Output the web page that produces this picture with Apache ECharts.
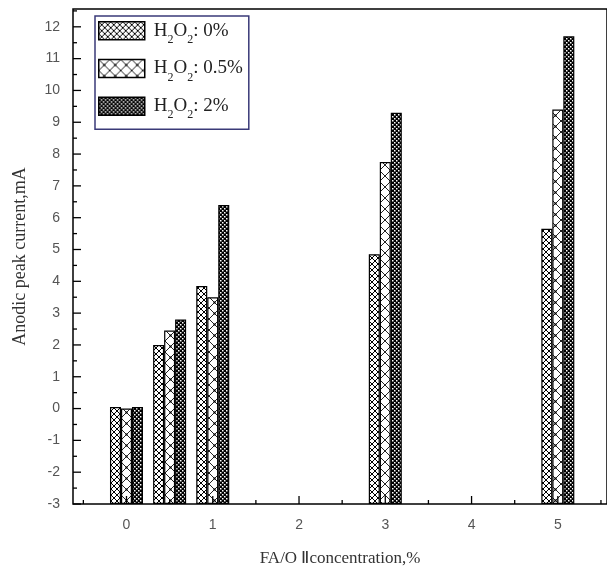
<!DOCTYPE html>
<html>
<head>
<meta charset="utf-8">
<script src="https://cdn.jsdelivr.net/npm/echarts@6/dist/echarts.min.js"></script>
<style>
  html, body { margin: 0; padding: 0; background: #fff; }
  #chart { width: 607px; height: 572px; }
</style>
</head>
<body>
<div id="chart"></div>
<script>
// FA/O II concentration (%) for each bar group
const concentrations = [0, 0.5, 1, 3, 5];
// anodic peak current (mA) per H2O2 level
const h2o2_0 = [0.05, 2.0, 3.85, 4.85, 5.65];
const h2o2_05 = [0.0, 2.45, 3.5, 7.75, 9.4];
const h2o2_2 = [0.05, 2.8, 6.4, 9.3, 11.7];
const seriesNames = ["H2O2: 0%", "H2O2: 0.5%", "H2O2: 2%"];
const legendSuffix = [": 0%", ": 0.5%", ": 2%"];
const xTicks = [0, 1, 2, 3, 4, 5];
const xMinorTicks = [-0.5, 0.5, 1.5, 2.5, 3.5, 4.5, 5.5];
const yTicks = [-3, -2, -1, 0, 1, 2, 3, 4, 5, 6, 7, 8, 9, 10, 11, 12];
const yMinorTicks = [-2.5, -1.5, -0.5, 0.5, 1.5, 2.5, 3.5, 4.5, 5.5, 6.5, 7.5, 8.5, 9.5, 10.5, 11.5, 12.5];

const SERIF = "'Liberation Serif', 'Times New Roman', serif";
const SANS = "'Liberation Sans', Arial, sans-serif";

function tile(size, draw) {
  const c = document.createElement("canvas");
  c.width = c.height = size;
  const g = c.getContext("2d");
  g.fillStyle = "#fff";
  g.fillRect(0, 0, size, size);
  draw(g, size);
  return c;
}

function diagonals(g, s, w, color) {
  g.strokeStyle = color;
  g.lineWidth = w;
  g.beginPath();
  g.moveTo(0, 0); g.lineTo(s, s);
  g.moveTo(s, 0); g.lineTo(0, s);
  g.stroke();
}

// dense small diamonds
const patSmall = tile(6, (g, s) => {
  diagonals(g, s, 1, "#000");
  g.fillStyle = "#000";
  g.fillRect(2, 2, 2, 2);
});
// large open X lattice
const patLarge = tile(11, (g, s) => {
  diagonals(g, s, 1, "#222");
  g.fillStyle = "#000";
  g.fillRect(4.5, 4.5, 2, 2);
});
// dark checker
const patDark = tile(4, (g, s) => {
  g.fillStyle = "#000";
  g.fillRect(0, 0, s, s);
  g.fillStyle = "#fff";
  g.fillRect(0, 0, 1.5, 1.5);
  g.fillRect(2, 2, 1.5, 1.5);
});

const fills = [patSmall, patLarge, patDark];
const values = [h2o2_0, h2o2_05, h2o2_2];

const X_MIN = -0.62, X_MAX = 5.57;
const Y_MIN = -3, Y_MAX = 12.56;

// inward ticks drawn at the frame, positioned through the axis scales
function xTickSeries(ticks, len) {
  return {
    type: "custom", silent: true, z: 5, clip: false,
    data: ticks.map((v) => [v, Y_MIN]),
    renderItem: (params, api) => {
      const p = api.coord([api.value(0), api.value(1)]);
      return {
        type: "line",
        shape: { x1: p[0], y1: p[1], x2: p[0], y2: p[1] - len },
        style: { stroke: "#000", lineWidth: 1.3 },
      };
    },
  };
}
function yTickSeries(ticks, len) {
  return {
    type: "custom", silent: true, z: 5, clip: false,
    data: ticks.map((v) => [X_MIN, v]),
    renderItem: (params, api) => {
      const p = api.coord([api.value(0), api.value(1)]);
      return {
        type: "line",
        shape: { x1: p[0], y1: p[1], x2: p[0] + len, y2: p[1] },
        style: { stroke: "#000", lineWidth: 1.3 },
      };
    },
  };
}

const chart = echarts.init(document.getElementById("chart"), null, { renderer: "canvas" });

chart.setOption({
  backgroundColor: "#fff",
  animation: false,
  grid: {
    left: 73, right: -3, top: 9, bottom: 65,
    show: true, borderColor: "#000", borderWidth: 1.5, backgroundColor: "transparent",
  },
  legend: {
    orient: "vertical",
    left: 95, top: 16,
    padding: [5, 6, 8, 3],
    borderColor: "#3a3a78", borderWidth: 1.5,
    itemWidth: 46, itemHeight: 18, itemGap: 13,
    icon: "rect",
    itemStyle: { borderColor: "#000", borderWidth: 1.5 },
    data: seriesNames,
    formatter: (name) => {
      const i = seriesNames.indexOf(name);
      return "{n|H}{s|2}{n|O}{s|2}{n|" + legendSuffix[i] + "}";
    },
    textStyle: {
      padding: [0, 0, 0, 4],
      rich: {
        n: { fontFamily: SERIF, fontSize: 19, color: "#222", lineHeight: 30 },
        s: { fontFamily: SERIF, fontSize: 12, color: "#222", verticalAlign: "bottom" },
      },
    },
  },
  xAxis: {
    type: "value", min: X_MIN, max: X_MAX, position: "bottom",
    name: "FA/O \u2161concentration,%",
    nameLocation: "middle", nameGap: 46,
    nameTextStyle: { fontFamily: SERIF, fontSize: 17, color: "#333" },
    axisLine: { show: false, onZero: false },
    axisTick: { show: false },
    axisLabel: { customValues: xTicks, margin: 14, fontFamily: SANS, fontSize: 14, color: "#555" },
    splitLine: { show: false },
  },
  yAxis: {
    type: "value", min: Y_MIN, max: Y_MAX, interval: 1, startValue: Y_MIN, position: "left",
    name: "Anodic peak current,mA",
    nameLocation: "middle", nameGap: 44,
    nameTextStyle: { fontFamily: SERIF, fontSize: 18, color: "#333" },
    axisLine: { show: false, onZero: false },
    axisTick: { show: false },
    axisLabel: {
      margin: 13, fontFamily: SANS, fontSize: 14, color: "#555",
      showMaxLabel: false,
      formatter: (v) => (Number.isInteger(v) ? String(v) : ""),
    },
    splitLine: { show: false },
  },
  series: [
    ...values.map((arr, i) => ({
      name: seriesNames[i],
      type: "bar",
      barWidth: 11,
      barGap: "0%",
      data: concentrations.map((x, k) => [x, arr[k]]),
      itemStyle: {
        color: { image: fills[i], repeat: "repeat" },
        borderColor: "#000",
        borderWidth: 1.2,
      },
    })),
    xTickSeries(xTicks, 8),
    xTickSeries(xMinorTicks, 4),
    yTickSeries(yTicks, 8),
    yTickSeries(yMinorTicks, 4),
  ],
});
</script>
</body>
</html>
